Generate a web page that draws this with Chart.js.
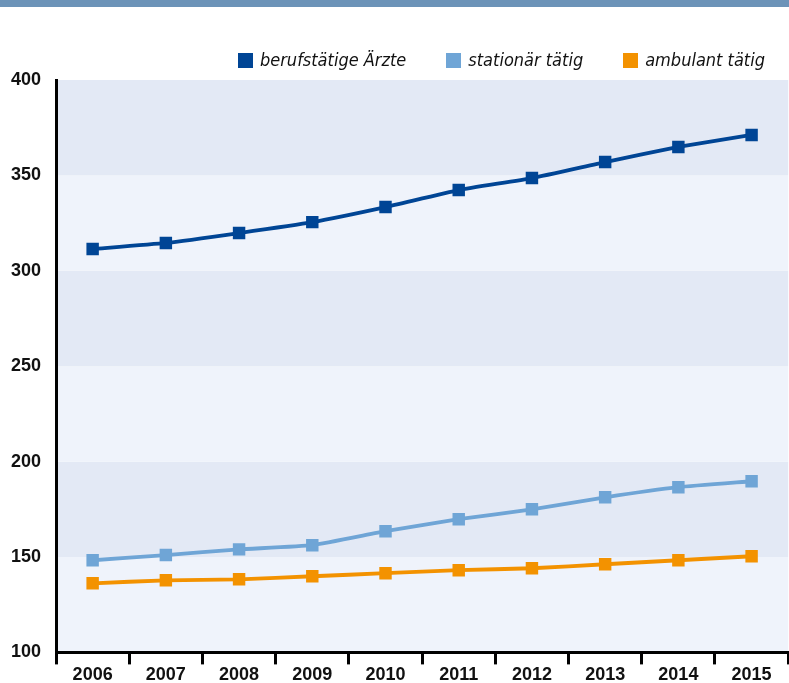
<!DOCTYPE html>
<html>
<head>
<meta charset="utf-8">
<script src="https://cdn.jsdelivr.net/npm/chart.js@4.4.1/dist/chart.umd.min.js"></script>
<style>
  html, body { margin: 0; padding: 0; background: #fff; }
  .wrap { position: relative; width: 789px; height: 683px; overflow: hidden; }
  .topbar { position: absolute; left: 0; top: 0; width: 789px; height: 7px; background: #6c93b8; }
  .legend { position: absolute; top: 49px; right: 24px; display: flex; gap: 40px;
    font-family: "DejaVu Sans Condensed", "DejaVu Sans", sans-serif; font-style: italic; font-size: 18px; color: #111; line-height: 22px; }
  .legend span.item { display: flex; align-items: center; }
  .legend i { display: inline-block; width: 15px; height: 15px; margin-right: 7px; }
  canvas { position: absolute; left: 0; top: 0; }
</style>
</head>
<body>
<div class="wrap">
  <canvas id="chart" width="797" height="683"></canvas>
  <div class="topbar"></div>
  <div class="legend" id="legend"></div>
</div>
<script>
const years = ["2006", "2007", "2008", "2009", "2010", "2011", "2012", "2013", "2014", "2015"];
const berufstaetig = [311.4, 314.6, 319.8, 325.5, 333.4, 342.3, 348.6, 357.0, 364.9, 371.2];
const stationaer = [148.3, 151.0, 154.0, 156.2, 163.5, 169.8, 175.0, 181.3, 186.6, 189.7];
const ambulant = [136.2, 137.8, 138.3, 139.9, 141.5, 143.1, 144.1, 146.2, 148.3, 150.4];
const seriesNames = ["berufstätige Ärzte", "stationär tätig", "ambulant tätig"];
const seriesColors = ["#004595", "#6fa5d6", "#f39200"];
const yTicks = [100, 150, 200, 250, 300, 350, 400];

const bands = {
  id: "bands",
  beforeDraw(chart) {
    const { ctx, chartArea, scales } = chart;
    const y = scales.y;
    ctx.save();
    for (let i = 0; i < yTicks.length - 1; i++) {
      const top = y.getPixelForValue(yTicks[i + 1]);
      const bottom = y.getPixelForValue(yTicks[i]);
      ctx.fillStyle = i % 2 === 0 ? "#eff3fb" : "#e3e9f5";
      ctx.fillRect(chartArea.left, top, chartArea.right - chartArea.left, bottom - top);
    }
    ctx.restore();
  }
};

const allSeries = [berufstaetig, stationaer, ambulant];
const legendEl = document.getElementById("legend");
seriesNames.forEach((n, i) => {
  const s = document.createElement("span");
  s.className = "item";
  s.innerHTML = '<i style="background:' + seriesColors[i] + '"></i>' + n;
  legendEl.appendChild(s);
});

new Chart(document.getElementById("chart"), {
  type: "line",
  data: {
    labels: years,
    datasets: allSeries.map((d, i) => ({
      label: seriesNames[i],
      data: d,
      borderColor: seriesColors[i],
      backgroundColor: seriesColors[i],
      borderWidth: 3.8,
      pointStyle: "rect",
      pointRadius: 8.8,
      pointBorderWidth: 0,
      tension: 0.15
    }))
  },
  options: {
    responsive: false,
    animation: false,
    layout: { padding: { top: 80, left: 11, right: 0, bottom: -3 } },
    plugins: { legend: { display: false }, tooltip: { enabled: false } },
    scales: {
      x: {
        offset: true,
        grid: { offset: true, drawOnChartArea: false, drawTicks: true, tickLength: 12, tickColor: "#000", tickWidth: 3 },
        border: { display: true, color: "#000", width: 3 },
        ticks: { color: "#111", font: { family: "Liberation Sans", weight: "bold", size: 18 }, padding: 0 }
      },
      y: {
        min: 100, max: 400,
        afterBuildTicks(scale) { scale.ticks = yTicks.map(v => ({ value: v })); },
        grid: { display: false, drawTicks: false },
        border: { display: true, color: "#000", width: 3 },
        ticks: { crossAlign: "far", color: "#111", font: { family: "Liberation Sans", weight: "bold", size: 18 }, padding: 7.5 }
      }
    }
  },
  plugins: [bands]
});
</script>
</body>
</html>
